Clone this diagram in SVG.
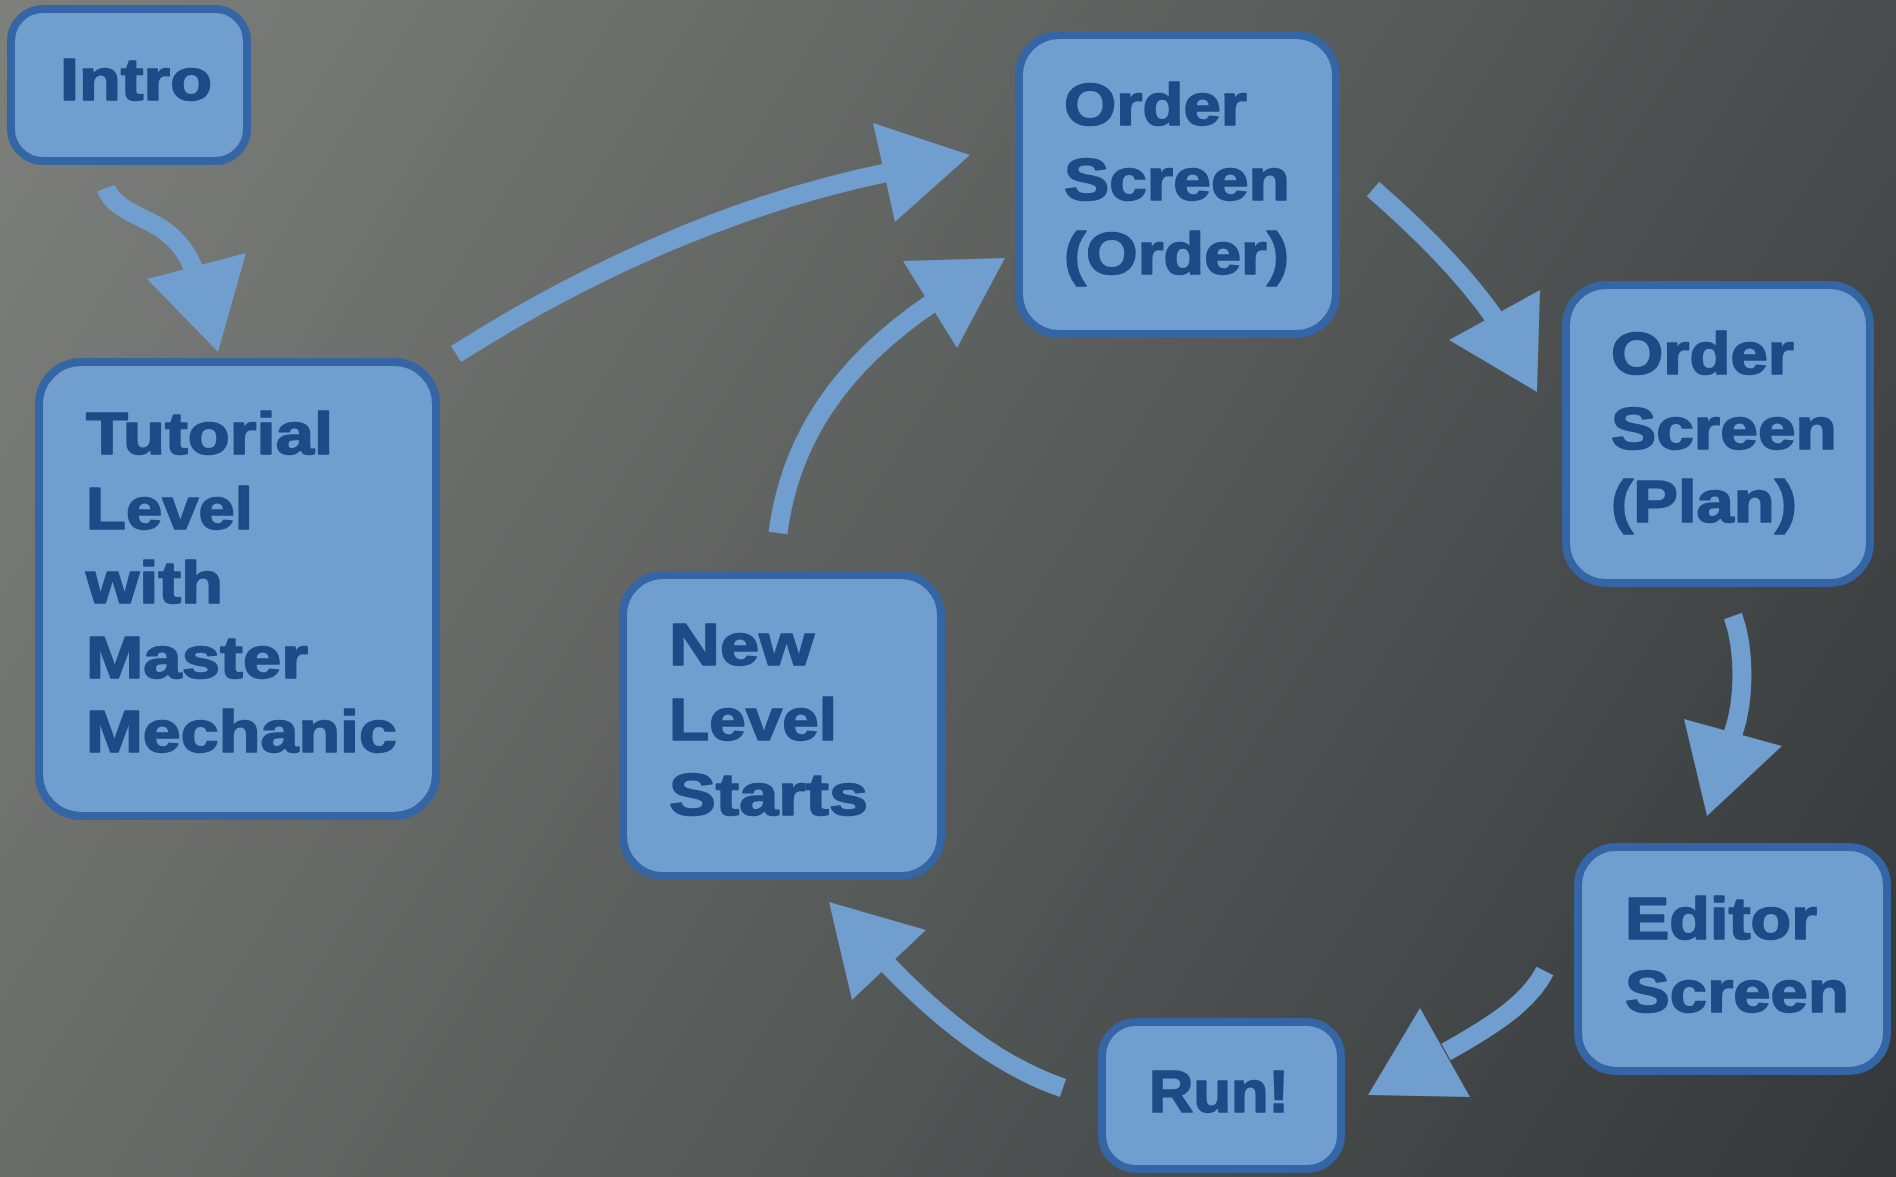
<svg xmlns="http://www.w3.org/2000/svg" width="1896" height="1177" viewBox="0 0 1896 1177">
<defs>
<linearGradient id="bg" x1="0" y1="0" x2="1896" y2="1177" gradientUnits="userSpaceOnUse">
<stop offset="0" stop-color="#7e807c"/>
<stop offset="0.5" stop-color="#595d5b"/>
<stop offset="1" stop-color="#33373a"/>
</linearGradient>
<style>
.box{fill:#6f9ecf;stroke:#3465a4;stroke-width:8}
.lbl{font-family:"Liberation Sans",Arial,sans-serif;font-weight:bold;font-size:60px;fill:#1f4a88;stroke:#1f4a88;stroke-width:1.6;stroke-linejoin:round}
.shaft{fill:none;stroke:#6f9ecf;stroke-width:19;stroke-linecap:butt}
.head{fill:#6f9ecf}
</style>
</defs>
<rect width="1896" height="1177" fill="url(#bg)"/>

<g id="connectors">
<path class="shaft" d="M106,188 C112,205 130,212 150,222 C170,232 186,248 194,270"/>
<polygon class="head" points="147,279 246,253 218,352"/>
<path class="shaft" d="M456,354 C580,275 730,205 885,173"/>
<polygon class="head" points="873,123 970,155 895,222"/>
<path class="shaft" d="M778,533 C790,440 840,365 932,303"/>
<polygon class="head" points="903,261 1005,258 957,348"/>
<path class="shaft" d="M1373,189 C1420,230 1465,275 1496,320"/>
<polygon class="head" points="1449,340 1540,290 1537,392"/>
<path class="shaft" d="M1733,616 C1745,650 1745,700 1733,734"/>
<polygon class="head" points="1684,719 1782,746 1707,816"/>
<path class="shaft" d="M1545,971 C1530,1000 1500,1022 1446,1052"/>
<polygon class="head" points="1420,1008 1470,1097 1368,1095"/>
<path class="shaft" d="M1063,1088 C1010,1070 950,1030 886,963"/>
<polygon class="head" points="829,902 926,930 852,1000"/>
</g>

<g id="intro">
<rect class="box" x="11" y="9" width="236" height="152" rx="32"/>
<text class="lbl" x="60" y="100" textLength="152" lengthAdjust="spacingAndGlyphs">Intro</text>
</g>

<g id="tutorial">
<rect class="box" x="39" y="362" width="397" height="454" rx="42"/>
<text class="lbl" x="86" y="454" textLength="247" lengthAdjust="spacingAndGlyphs">Tutorial</text>
<text class="lbl" x="86" y="529" textLength="167" lengthAdjust="spacingAndGlyphs">Level</text>
<text class="lbl" x="86" y="603" textLength="137" lengthAdjust="spacingAndGlyphs">with</text>
<text class="lbl" x="86" y="678" textLength="222" lengthAdjust="spacingAndGlyphs">Master</text>
<text class="lbl" x="86" y="752" textLength="311" lengthAdjust="spacingAndGlyphs">Mechanic</text>
</g>

<g id="order-order">
<rect class="box" x="1019" y="35" width="317" height="299" rx="40"/>
<text class="lbl" x="1064" y="125" textLength="183" lengthAdjust="spacingAndGlyphs">Order</text>
<text class="lbl" x="1064" y="200" textLength="226" lengthAdjust="spacingAndGlyphs">Screen</text>
<text class="lbl" x="1064" y="274" textLength="225" lengthAdjust="spacingAndGlyphs">(Order)</text>
</g>

<g id="order-plan">
<rect class="box" x="1566" y="285" width="304" height="298" rx="40"/>
<text class="lbl" x="1611" y="374" textLength="183" lengthAdjust="spacingAndGlyphs">Order</text>
<text class="lbl" x="1611" y="449" textLength="226" lengthAdjust="spacingAndGlyphs">Screen</text>
<text class="lbl" x="1611" y="522" textLength="186" lengthAdjust="spacingAndGlyphs">(Plan)</text>
</g>

<g id="new-level">
<rect class="box" x="623" y="575" width="318" height="301" rx="40"/>
<text class="lbl" x="669" y="665" textLength="145" lengthAdjust="spacingAndGlyphs">New</text>
<text class="lbl" x="669" y="740" textLength="168" lengthAdjust="spacingAndGlyphs">Level</text>
<text class="lbl" x="669" y="815" textLength="199" lengthAdjust="spacingAndGlyphs">Starts</text>
</g>

<g id="editor">
<rect class="box" x="1578" y="847" width="309" height="224" rx="38"/>
<text class="lbl" x="1625" y="939" textLength="192" lengthAdjust="spacingAndGlyphs">Editor</text>
<text class="lbl" x="1625" y="1012" textLength="224" lengthAdjust="spacingAndGlyphs">Screen</text>
</g>

<g id="run">
<rect class="box" x="1102" y="1022" width="239" height="147" rx="34"/>
<text class="lbl" x="1149" y="1112" textLength="140" lengthAdjust="spacingAndGlyphs">Run!</text>
</g>
</svg>
